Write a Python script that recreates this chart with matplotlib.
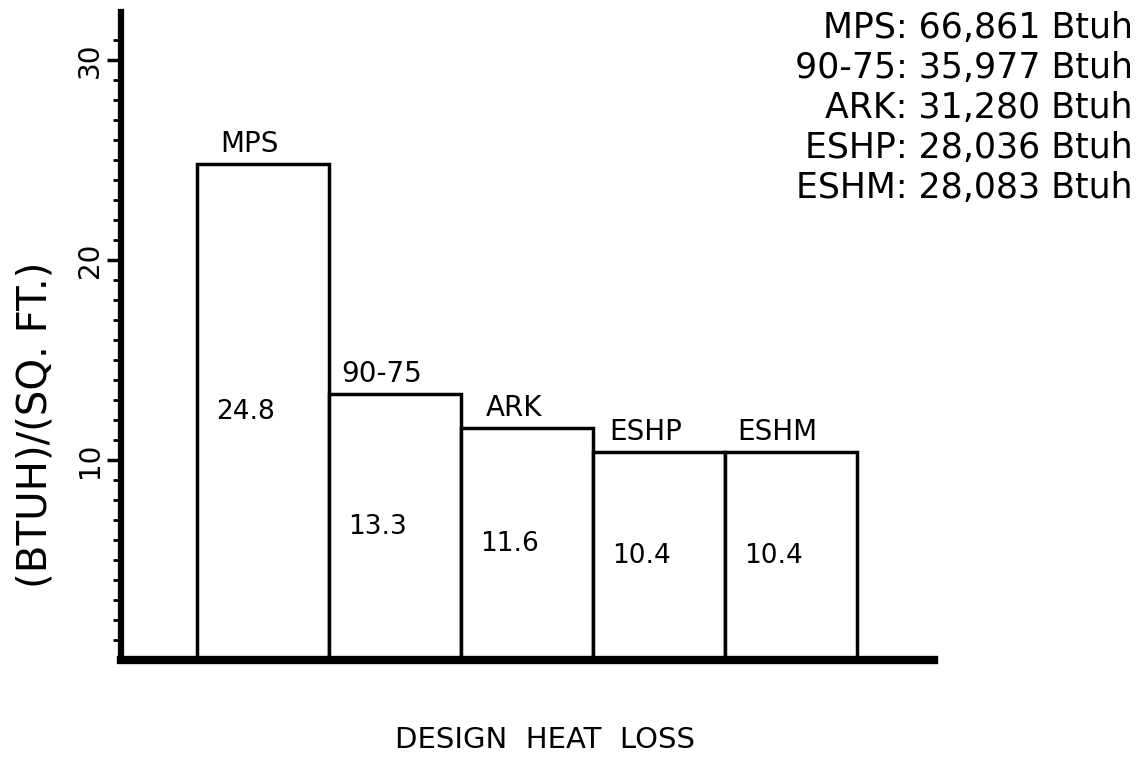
import matplotlib
matplotlib.use("Agg")
import matplotlib.pyplot as plt
import numpy as np

# heat loss per floor area, BTUH / sq.ft.
names = ["MPS", "90-75", "ARK", "ESHP", "ESHM"]
values = [24.8, 13.3, 11.6, 10.4, 10.4]
value_labels = ["24.8", "13.3", "11.6", "10.4", "10.4"]

# total design heat loss, Btuh
totals = ["66,861", "35,977", "31,280", "28,036", "28,083"]

fig = plt.figure(figsize=(11.41, 7.67), dpi=100)
ax = fig.add_axes([0.106, 0.1395, 0.713, 0.845])

x = np.arange(len(names))
ax.bar(x, values, width=1.0, align="edge", color="white",
       edgecolor="black", linewidth=2.5, zorder=2)

for xi, v, n, lab in zip(x, values, names, value_labels):
    ax.text(xi + 0.4, v + 0.3, n, ha="center", va="bottom", fontsize=20)
    ax.text(xi + 0.37, v / 2, lab, ha="center", va="center", fontsize=19)

ax.set_xlim(-0.576, 5.59)
ax.set_ylim(0, 32.4)
ax.set_xticks([])
ax.set_yticks([10, 20, 30])
ax.set_yticklabels(["10", "20", "30"], rotation=90, va="center", fontsize=20)
ax.set_yticks(np.arange(1, 32), minor=True)
ax.tick_params(axis="y", which="major", direction="out", length=10, width=2.5, pad=2)
ax.tick_params(axis="y", which="minor", direction="out", length=6, width=2)

for s in ("top", "right"):
    ax.spines[s].set_visible(False)
ax.spines["left"].set_linewidth(4.5)
ax.spines["bottom"].set_linewidth(6)

ax.set_ylabel("(BTUH)/(SQ. FT.)", fontsize=29)
ax.yaxis.set_label_coords(-0.081, 0.363)
fig.text(0.478, 0.035, "DESIGN  HEAT  LOSS", ha="center", va="center", fontsize=21)

# summary of totals, top right
for i, (n, t) in enumerate(zip(names, totals)):
    yy = 0.963 - i * 0.052
    fig.text(0.993, yy, "%s: %s Btuh" % (n, t), ha="right", va="center", fontsize=25)

fig.savefig("out.png", dpi=100)
